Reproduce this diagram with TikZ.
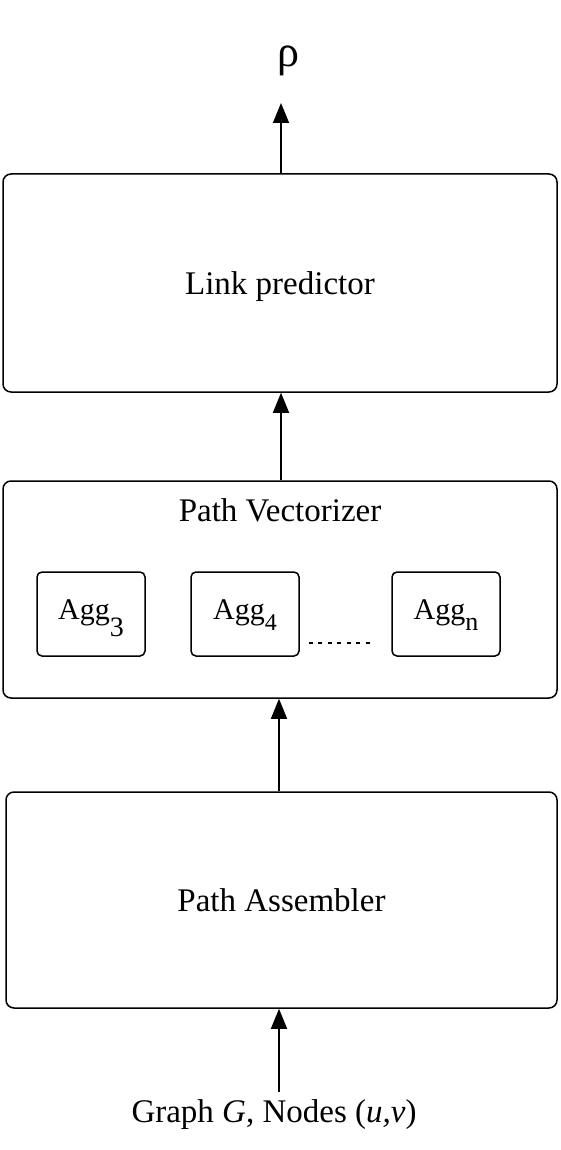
\documentclass[tikz,border=0pt]{standalone}
\usepackage{fontspec}
\setmainfont{Liberation Serif}
\usepackage{tikz}
\usetikzlibrary{arrows.meta}
\usetikzlibrary{positioning}

\newcommand{\aggname}[3]{Agg\raisebox{-#2pt}{\fontsize{#3}{#3}\selectfont #1}}

\begin{document}
\begin{tikzpicture}[x=1pt,y=-1pt,
    block/.style={draw, line width=1.5pt, rounded corners=8pt, inner sep=0pt, text depth=0pt},
    aggbox/.style={draw, line width=1.5pt, rounded corners=5pt, minimum width=108pt, minimum height=84pt,
      inner sep=0pt, text height=24pt, text depth=14pt, font=\fontsize{30}{34}\selectfont},
    flow/.style={-{Triangle[length=20pt,width=16pt]}, line width=1.6pt}]
  \useasboundingbox (0,0) rectangle (561,1150);
  \fontsize{33}{40}\selectfont

  % main blocks
  \node[block, minimum width=554pt, minimum height=218pt] (link) at (280,283) {Link predictor};
  \node[block, minimum width=554pt, minimum height=217pt] (vect) at (280,589.5) {};
  \node (vectlabel) at (280,510) {Path Vectorizer};
  \node[block, minimum width=551pt, minimum height=216pt] (asm) at (281.5,900) {Path Assembler};

  % aggregators
  \node[aggbox] (agg3) at (91,614) {\aggname{3}{17}{28}};
  \node[aggbox] (agg4) at (245,614) {\aggname{4}{11}{24}};
  \node[aggbox] (aggn) at (446,614) {\aggname{n}{11}{26}};
  \draw[line width=1.6pt, dash pattern=on 4pt off 5.5pt]
    ([xshift=9pt,yshift=14pt]agg4.south east) -- ([xshift=-17pt,yshift=14pt]aggn.south west);

  % output and input
  \node[font=\fontsize{44}{48}\selectfont] (rho) at (288,61) {ρ};
  \coordinate (rhotip) at (281,103);
  \node (input) at (274,1115) {Graph \textit{G}, Nodes (\textit{u,v})};
  \coordinate (inbase) at (279,1092);

  % connectors
  \draw[flow] ([xshift=1pt]link.north) -- (rhotip);
  \draw[flow] ([xshift=1pt]vect.north) -- ([xshift=1pt]link.south);
  \draw[flow] ([xshift=-2.5pt]asm.north) -- ([xshift=-1pt]vect.south);
  \draw[flow] (inbase) -- (inbase |- asm.south);
\end{tikzpicture}
\end{document}
